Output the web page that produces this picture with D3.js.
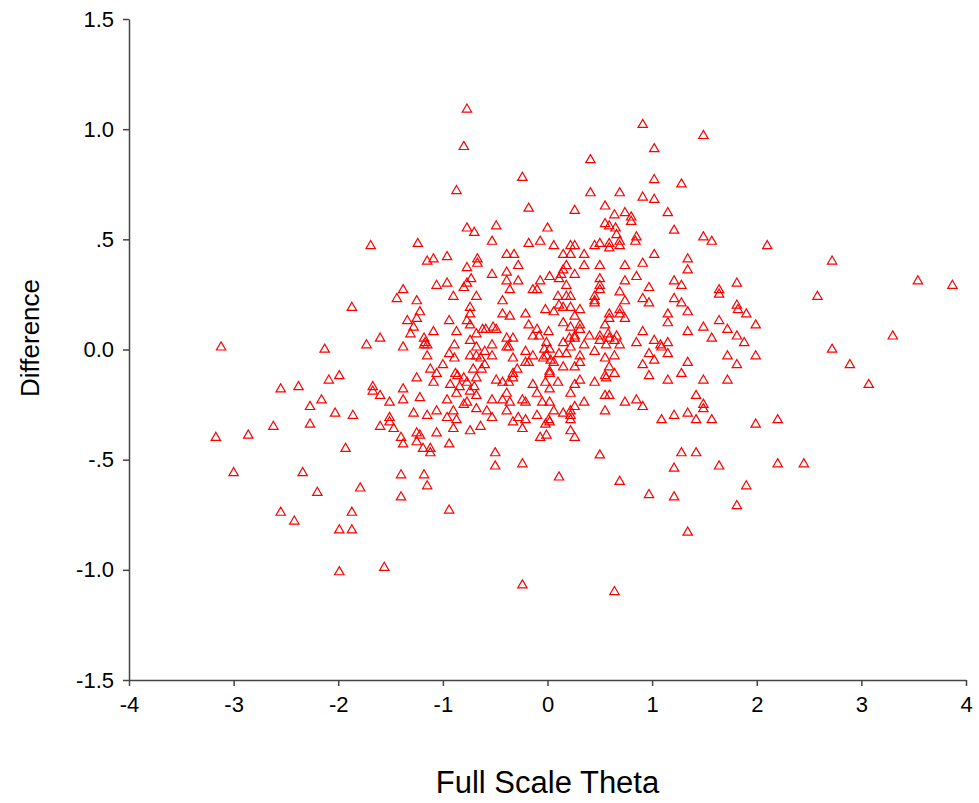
<!DOCTYPE html>
<html>
<head>
<meta charset="utf-8">
<script src="https://cdn.jsdelivr.net/npm/d3@7"></script>
<style>
  html, body { margin: 0; padding: 0; background: #fff; }
  svg { display: block; }
  text { font-family: "Liberation Sans", Arial, sans-serif; fill: #000; }
</style>
</head>
<body>
<svg id="chart" width="979" height="803"></svg>
<script>
// ---- Data ----
const xTitle = "Full Scale Theta";
const yTitle = "Difference";
const xTicks = [-4, -3, -2, -1, 0, 1, 2, 3, 4];
const xTickLabels = ["-4", "-3", "-2", "-1", "0", "1", "2", "3", "4"];
const yTicks = [1.5, 1.0, 0.5, 0.0, -0.5, -1.0, -1.5];
const yTickLabels = ["1.5", "1.0", ".5", "0.0", "-.5", "-1.0", "-1.5"];

// Full Scale Theta (x) values
const theta = [
-0.77,-0.80,-0.24,-0.87,-0.18,-0.77,-0.70,-0.49,0.00,-1.69,-1.24,-0.53,-0.18,-0.07,-1.15,-1.09,-0.96,-0.67,-0.67,-0.39,
-0.32,-0.28,-0.77,-0.53,-0.39,-0.73,-0.77,-0.39,-0.28,-0.07,-1.06,-0.96,-0.80,-1.38,-0.36,-0.14,-0.10,-1.44,-1.25,-0.90,
-0.68,-0.43,-1.87,-0.74,-1.22,-1.34,-1.25,-1.28,-1.31,-0.94,-0.74,-0.77,-0.74,-0.43,-0.36,-0.21,-0.02,-1.09,-0.87,-0.68,
-0.62,-0.59,-0.52,-0.49,-0.18,-0.10,-0.14,-0.08,0.01,-1.60,-1.73,-1.38,-1.18,-1.17,-1.18,-1.15,-0.74,-0.89,-0.68,-0.53,
-0.39,-0.33,-0.39,-0.37,-0.21,-0.14,-0.03,-0.01,-0.04,-1.15,-0.94,-0.89,-0.74,-0.68,-0.60,-0.53,-0.64,-0.33,-0.21,-0.18,
-1.00,-1.12,-1.06,-0.71,-0.63,-0.60,-0.29,-0.33,-0.88,-0.86,-1.25,-1.09,-0.93,-0.80,-0.77,-0.84,-0.70,-0.68,-0.49,-0.43,
-0.37,-0.33,-0.14,-0.02,-1.67,-1.67,-1.38,-1.60,-1.51,-1.38,-1.22,-0.96,-0.87,-0.74,-0.68,-0.77,-0.80,-0.53,-0.39,-0.36,
-0.43,-0.24,-0.21,-0.10,-0.05,-1.86,-1.28,-1.51,-1.51,-1.15,-1.06,-0.90,-0.68,-0.58,-0.39,-0.96,-0.87,-0.53,-0.28,-0.21,
-0.10,0.01,-1.60,-1.47,-0.90,-0.74,-0.64,-0.33,-0.24,-0.02,-1.40,-1.25,-1.22,-1.25,-1.06,-1.38,-0.94,-1.19,-1.12,-1.12,
-0.07,-0.50,-1.93,
0.91,1.49,1.02,0.41,1.02,1.28,0.41,0.69,0.91,1.02,0.26,0.55,0.64,0.74,0.80,0.80,1.15,0.55,0.59,0.65,
0.66,0.85,0.84,1.21,1.49,1.57,0.06,0.22,0.26,0.45,0.50,0.59,0.59,0.69,0.69,0.15,0.22,0.35,1.02,1.34,
0.18,0.15,0.13,0.35,0.50,0.74,0.91,1.34,0.26,0.02,
0.11,0.18,0.50,0.50,0.50,0.74,0.85,0.97,1.21,1.28,1.64,1.64,1.81,0.10,0.18,0.22,0.45,0.45,0.45,0.69,
0.74,0.91,0.97,1.21,1.28,1.34,1.81,1.82,0.06,0.11,0.15,0.22,0.31,0.59,0.59,0.69,0.69,0.74,1.15,1.15,
0.26,0.15,0.55,0.31,0.31,0.22,1.64,1.49,1.72,0.91,1.34,0.26,0.26,0.58,0.59,0.21,0.40,0.50,0.50,0.66,
1.57,1.81,1.88,-0.01,0.15,0.22,0.35,0.45,0.56,0.64,0.69,0.85,1.02,1.08,1.09,1.15,0.97,1.15,1.72,0.02,
0.03,0.11,0.18,0.31,0.55,0.64,1.02,1.34,0.06,0.15,0.26,0.31,0.59,0.91,1.81,0.02,0.02,0.55,0.56,0.64,
0.45,0.97,1.28,1.15,1.49,1.72,0.10,0.26,0.31,0.02,0.22,0.35,0.55,0.59,0.74,0.85,0.91,1.42,1.49,1.49,
0.02,0.06,0.15,0.22,0.22,0.22,0.26,0.55,1.21,1.34,1.09,1.42,1.57,0.02,0.22,0.26,-0.01,0.50,1.28,1.42,
1.21,1.64,0.11,0.69,0.97,1.21,1.90,1.81,1.34,0.64,2.20,2.45,
3.54,3.87,2.58,1.90,1.99,1.99,3.30,2.72,2.89,3.07,1.99,2.20,2.10,2.72,
-3.12,-2.13,-2.09,-1.99,-2.55,-2.38,-2.16,-2.27,-2.03,-2.27,-2.62,-2.86,-3.17,
-3.00,-2.34,-2.20,-2.55,-2.42,-1.87,-1.99,-1.87,-1.99,
-0.50,-0.24,-1.40,-1.18,-1.15,-1.79,-1.40,-0.94,-1.56,-0.24
];

// Difference (y) values, same order as theta
const difference = [
1.09,0.92,0.78,0.72,0.64,0.55,0.53,0.56,0.55,0.47,0.48,0.49,0.48,0.49,0.40,0.41,0.42,0.41,0.39,0.43,
0.43,0.38,0.37,0.34,0.35,0.32,0.30,0.31,0.31,0.31,0.29,0.30,0.28,0.27,0.27,0.27,0.27,0.23,0.22,0.24,
0.24,0.22,0.19,0.19,0.17,0.13,0.14,0.10,0.07,0.13,0.16,0.13,0.11,0.16,0.15,0.16,0.18,0.08,0.08,0.07,
0.09,0.09,0.10,0.09,0.11,0.09,0.06,0.06,0.08,0.05,0.02,0.01,0.05,0.03,0.02,0.02,0.04,0.02,0.01,0.02,
0.05,0.05,0.01,0.01,-0.01,-0.03,0.00,-0.03,-0.04,-0.03,-0.02,-0.04,-0.03,-0.03,-0.01,-0.03,-0.04,-0.04,-0.06,-0.06,
-0.07,-0.09,-0.11,-0.09,-0.09,-0.07,-0.09,-0.11,-0.11,-0.12,-0.13,-0.15,-0.16,-0.13,-0.15,-0.17,-0.17,-0.13,-0.14,-0.15,
-0.15,-0.13,-0.16,-0.15,-0.17,-0.19,-0.18,-0.21,-0.24,-0.23,-0.22,-0.23,-0.20,-0.19,-0.21,-0.24,-0.25,-0.23,-0.20,-0.24,
-0.23,-0.23,-0.24,-0.20,-0.24,-0.30,-0.29,-0.31,-0.33,-0.30,-0.28,-0.28,-0.27,-0.28,-0.28,-0.31,-0.32,-0.31,-0.31,-0.32,
-0.30,-0.32,-0.35,-0.36,-0.36,-0.37,-0.35,-0.33,-0.36,-0.34,-0.40,-0.38,-0.39,-0.42,-0.38,-0.43,-0.43,-0.45,-0.45,-0.47,
-0.40,-0.47,-0.45,
1.02,0.97,0.91,0.86,0.77,0.75,0.71,0.71,0.69,0.68,0.63,0.65,0.61,0.62,0.60,0.58,0.62,0.57,0.56,0.55,
0.52,0.51,0.49,0.54,0.51,0.49,0.47,0.47,0.47,0.47,0.48,0.48,0.46,0.49,0.47,0.43,0.43,0.43,0.43,0.41,
0.38,0.36,0.34,0.38,0.38,0.38,0.39,0.36,0.34,0.33,
0.32,0.29,0.32,0.29,0.27,0.31,0.33,0.28,0.31,0.29,0.27,0.25,0.30,0.24,0.24,0.24,0.24,0.22,0.21,0.26,
0.22,0.23,0.21,0.23,0.21,0.17,0.20,0.18,0.17,0.20,0.19,0.19,0.18,0.16,0.14,0.18,0.16,0.14,0.16,0.12,
0.15,0.12,0.11,0.11,0.09,0.10,0.13,0.10,0.09,0.08,0.08,0.06,0.05,0.07,0.05,0.05,0.06,0.06,0.04,0.06,
0.05,0.06,0.03,0.03,0.03,0.01,0.02,-0.01,0.02,0.04,0.02,0.03,0.04,0.02,0.01,0.03,-0.02,-0.02,-0.03,0.00,
-0.05,-0.02,-0.02,-0.03,-0.04,-0.03,-0.05,-0.06,-0.06,-0.08,-0.08,-0.06,-0.08,-0.07,-0.07,-0.10,-0.11,-0.12,-0.13,-0.11,
-0.15,-0.12,-0.11,-0.14,-0.14,-0.14,-0.15,-0.16,-0.14,-0.18,-0.20,-0.24,-0.21,-0.21,-0.24,-0.23,-0.26,-0.21,-0.25,-0.27,
-0.24,-0.28,-0.29,-0.28,-0.30,-0.32,-0.26,-0.28,-0.30,-0.29,-0.32,-0.32,-0.32,-0.33,-0.37,-0.40,-0.39,-0.48,-0.47,-0.47,
-0.54,-0.53,-0.58,-0.60,-0.66,-0.67,-0.62,-0.71,-0.83,-1.10,-0.52,-0.52,
0.31,0.29,0.24,0.16,0.11,-0.03,0.06,0.00,-0.07,-0.16,-0.34,-0.32,0.47,0.40,
0.01,0.00,-0.14,-0.12,-0.18,-0.17,-0.23,-0.26,-0.29,-0.34,-0.35,-0.39,-0.40,
-0.56,-0.56,-0.65,-0.74,-0.78,-0.74,-0.82,-0.82,-1.01,
-0.53,-0.52,-0.57,-0.57,-0.62,-0.63,-0.67,-0.73,-0.99,-1.07
];

// ---- Layout ----
const W = 979, H = 803;
const margin = { left: 129, top: 19, right: 13, bottom: 123 };
const innerW = W - margin.left - margin.right;
const innerH = H - margin.top - margin.bottom;

const svg = d3.select("#chart");
const g = svg.append("g").attr("transform", `translate(${margin.left},${margin.top})`);

const x = d3.scaleLinear().domain([-4, 4]).range([0, innerW]);
const y = d3.scaleLinear().domain([-1.5, 1.5]).range([innerH, 0]);

// Axes
const xAxis = d3.axisBottom(x).tickValues(xTicks)
  .tickFormat((d, i) => xTickLabels[i]).tickSize(6).tickSizeOuter(0).tickPadding(10);
const yAxis = d3.axisLeft(y).tickValues(yTicks)
  .tickFormat((d, i) => yTickLabels[i]).tickSize(6).tickSizeOuter(0).tickPadding(9);

const gx = g.append("g").attr("transform", `translate(0,${innerH})`).call(xAxis);
const gy = g.append("g").call(yAxis);
[gx, gy].forEach(a => {
  a.selectAll("path.domain").attr("stroke", "#444").attr("stroke-width", 1.5);
  a.selectAll(".tick line").attr("stroke", "#444").attr("stroke-width", 1.5);
  a.selectAll(".tick text").attr("font-size", 22).attr("font-family", "Liberation Sans, Arial, sans-serif").attr("fill", "#000");
});

// Points
const pts = theta.map((t, i) => ({ x: t, y: difference[i] }));
const tri = d3.symbol().type(d3.symbolTriangle).size(38);
g.append("g").selectAll("path.pt").data(pts).enter().append("path")
  .attr("class", "pt")
  .attr("d", tri)
  .attr("transform", d => `translate(${x(d.x)},${y(d.y)})`)
  .attr("fill", "none")
  .attr("stroke", "#ff0000")
  .attr("stroke-width", 1.2);

// Titles
svg.append("text")
  .attr("x", margin.left + x(0)).attr("y", 793)
  .attr("text-anchor", "middle").attr("font-size", 31)
  .text(xTitle);
svg.append("text")
  .attr("transform", `translate(39,338) rotate(-90)`)
  .attr("text-anchor", "middle").attr("font-size", 26)
  .text(yTitle);
</script>
</body>
</html>
